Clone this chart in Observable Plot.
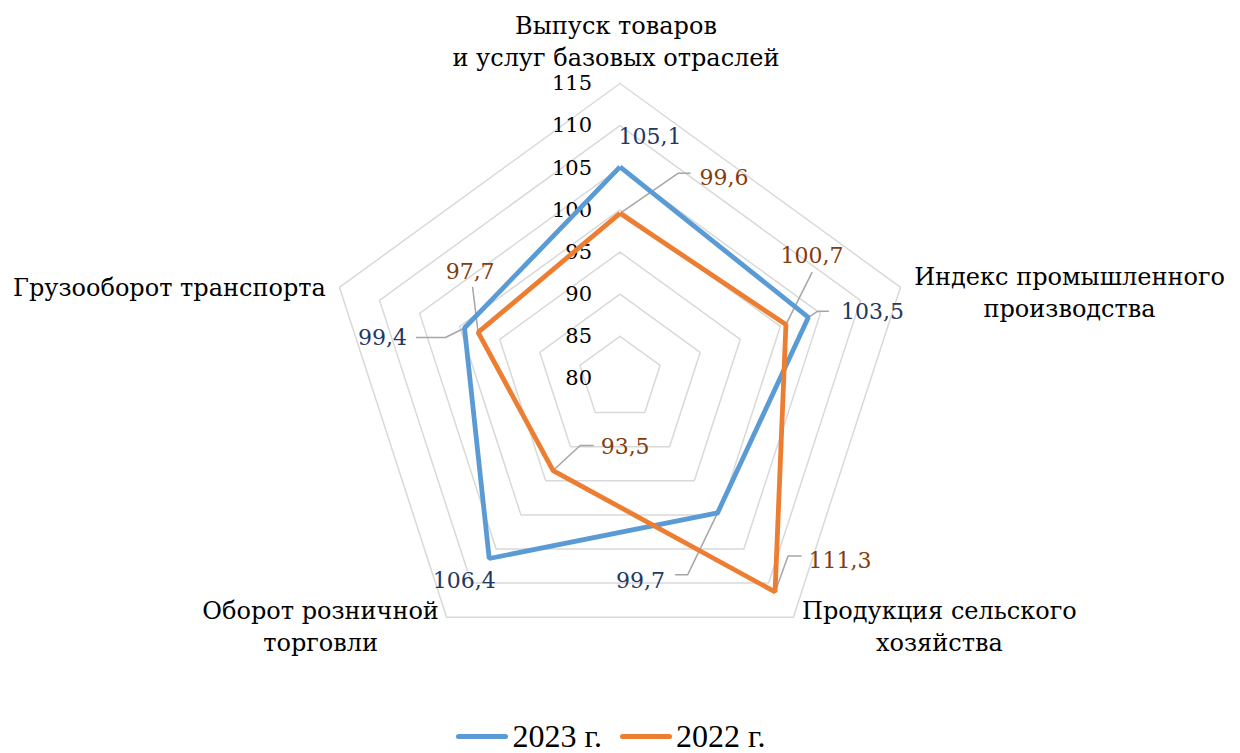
<!DOCTYPE html>
<html><head><meta charset="utf-8">
<script src="https://cdn.jsdelivr.net/npm/d3@7"></script>
<script src="https://cdn.jsdelivr.net/npm/@observablehq/plot@0.6"></script>
<style>
body{margin:0;background:#fff;font-family:"Liberation Serif","Times New Roman",serif;}
#legend{display:flex;justify-content:center;align-items:center;height:33px;font-size:32px;color:#000;padding-right:18px;}
.sw{display:inline-block;width:52px;height:5px;border-radius:3px;margin-right:4px;}
.item{display:flex;align-items:center;margin:0 9px;}
</style></head>
<body><div id="chart"></div>
<div id="legend"></div>
<script>
// ---- data ----
const categories = [
  "Выпуск товаров\nи услуг базовых отраслей",
  "Индекс промышленного\nпроизводства",
  "Продукция сельского\nхозяйства",
  "Оборот розничной\nторговли",
  "Грузооборот транспорта"
];
const values2023 = [105.1, 103.5, 99.7, 106.4, 99.4];
const values2022 = [99.6, 100.7, 111.3, 93.5, 97.7];
const ticks = [80, 85, 90, 95, 100, 105, 110, 115];
const seriesNames = ["2023 г.", "2022 г."];

// ---- layout ----
const W = 1240, H = 720, cx = 619.5, cy = 378, R = 295;
const rmin = 80, rmax = 115;
const k = R / (rmax - rmin); // px per unit
const colors = ["#5B9BD5", "#ED7D31"];
const labelColors = ["#1F3864", "#843C0C"];
const FONT = "DejaVu Serif";
const FS_TICK = 21, FS_DATA = 22, FS_CAT = 24;

const n = categories.length;
const ang = i => i * 2 * Math.PI / n;
const pos = (i, v) => ({x: (v - rmin) * Math.sin(ang(i)), y: (v - rmin) * Math.cos(ang(i))});

// grid rings
const rings = [];
ticks.filter(t => t > rmin).forEach(t => {
  for (let i = 0; i <= n; i++) rings.push({ring: t, ...pos(i % n, t)});
});

// series polygons
const series = [];
[values2023, values2022].forEach((vals, s) => {
  for (let i = 0; i <= n; i++) series.push({s, ...pos(i % n, vals[i % n])});
});

// data label offsets (px) and leader line offsets (px) per series / category
const lblOff = [
  [[30,-30],[64,-5],[-77,68],[-25,22],[-82,10]],
  [[104,-35],[26,-69],[65,-31],[72,-24],[-8,-60]]
];
const leaders = [
  [null, [[9,-6],[20,-6]], [[-30,62],[-42,62]], null, [[-19,9.5],[-48,9.5]]],
  [[[58,-40],[70,-40]], [[26,-52]], [[13,-36],[26,-36]], [[27,-25],[40,-25]], [[-5.5,-45]]]
];
const dataLabels = [];
const leaderPts = [];
[values2023, values2022].forEach((vals, s) => {
  vals.forEach((v, i) => {
    const p = pos(i, v);
    const [dx, dy] = lblOff[s][i];
    dataLabels.push({s, x: p.x, y: p.y, dx, dy, text: String(v).replace(".", ",")});
    const L = leaders[s][i];
    if (L) {
      const id = s + "-" + i;
      leaderPts.push({id, x: p.x, y: p.y});
      L.forEach(([ox, oy]) => leaderPts.push({id, x: p.x + ox / k, y: p.y - oy / k}));
    }
  });
});

// category label offsets (px) from outer vertex
const catOff = [[-4,-44],[169,3],[146,8],[-126,8],[-170,-2]];
const catLabels = categories.map((c, i) => ({...pos(i, rmax), text: c, dx: catOff[i][0], dy: catOff[i][1]}));

const tickLabels = ticks.map(t => ({x: 0, y: t - rmin, text: String(t)}));

const chart = Plot.plot({
  width: W, height: H,
  margin: 0,
  x: {domain: [-cx / k, (W - cx) / k], axis: null},
  y: {domain: [-(H - cy) / k, cy / k], axis: null},
  marks: [
    Plot.line(rings, {x: "x", y: "y", z: "ring", stroke: "#D9D9D9", strokeWidth: 1.5}),
    Plot.text(tickLabels, {x: "x", y: "y", text: "text", dx: -28, textAnchor: "end", fontSize: FS_TICK, fontFamily: FONT, fill: "#000"}),
    Plot.line(leaderPts, {x: "x", y: "y", z: "id", stroke: "#A6A6A6", strokeWidth: 1.5}),
    Plot.line(series.filter(d => d.s === 0), {x: "x", y: "y", stroke: colors[0], strokeWidth: 4.8, strokeLinejoin: "miter", strokeLinecap: "butt"}),
    Plot.line(series.filter(d => d.s === 1), {x: "x", y: "y", stroke: colors[1], strokeWidth: 4.8, strokeLinejoin: "miter", strokeLinecap: "butt"}),
    ...dataLabels.map(d => Plot.text([d], {x: "x", y: "y", text: "text", dx: d.dx, dy: d.dy, fontSize: FS_DATA, fontFamily: FONT, fill: labelColors[d.s]})),
    ...catLabels.map(d => Plot.text([d], {x: "x", y: "y", text: "text", dx: d.dx, dy: d.dy, fontSize: FS_CAT, fontFamily: FONT, fill: "#000", lineHeight: 1.333}))
  ]
});
document.getElementById("chart").appendChild(chart);

const lg = document.getElementById("legend");
seriesNames.forEach((name, i) => {
  const it = document.createElement("div");
  it.className = "item";
  it.innerHTML = `<span class="sw" style="background:${colors[i]}"></span><span>${name}</span>`;
  lg.appendChild(it);
});
</script>
</body></html>
